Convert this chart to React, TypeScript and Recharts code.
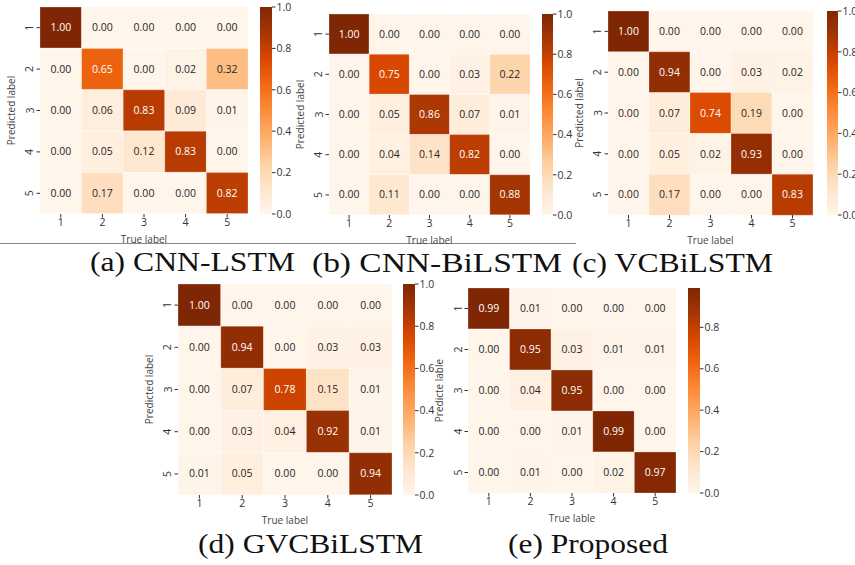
import React from 'react';
import { BarChart, Bar, XAxis, YAxis, Cell, LabelList } from 'recharts';

const CLASSES = ['1', '2', '3', '4', '5'];

const cnnLstm = [
  [1.0, 0.0, 0.0, 0.0, 0.0],
  [0.0, 0.65, 0.0, 0.02, 0.32],
  [0.0, 0.06, 0.83, 0.09, 0.01],
  [0.0, 0.05, 0.12, 0.83, 0.0],
  [0.0, 0.17, 0.0, 0.0, 0.82],
];
const cnnBiLstm = [
  [1.0, 0.0, 0.0, 0.0, 0.0],
  [0.0, 0.75, 0.0, 0.03, 0.22],
  [0.0, 0.05, 0.86, 0.07, 0.01],
  [0.0, 0.04, 0.14, 0.82, 0.0],
  [0.0, 0.11, 0.0, 0.0, 0.88],
];
const vcBiLstm = [
  [1.0, 0.0, 0.0, 0.0, 0.0],
  [0.0, 0.94, 0.0, 0.03, 0.02],
  [0.0, 0.07, 0.74, 0.19, 0.0],
  [0.0, 0.05, 0.02, 0.93, 0.0],
  [0.0, 0.17, 0.0, 0.0, 0.83],
];
const gvcBiLstm = [
  [1.0, 0.0, 0.0, 0.0, 0.0],
  [0.0, 0.94, 0.0, 0.03, 0.03],
  [0.0, 0.07, 0.78, 0.15, 0.01],
  [0.0, 0.03, 0.04, 0.92, 0.01],
  [0.01, 0.05, 0.0, 0.0, 0.94],
];
const proposed = [
  [0.99, 0.01, 0.0, 0.0, 0.0],
  [0.0, 0.95, 0.03, 0.01, 0.01],
  [0.0, 0.04, 0.95, 0.0, 0.0],
  [0.0, 0.0, 0.01, 0.99, 0.0],
  [0.0, 0.01, 0.0, 0.02, 0.97],
];

const cbTicksFull = [0, 0.2, 0.4, 0.6, 0.8, 1.0];
const cbTicksProposed = [0, 0.2, 0.4, 0.6, 0.8];

const captions = ['(a) CNN-LSTM', '(b) CNN-BiLSTM', '(c) VCBiLSTM', '(d) GVCBiLSTM', '(e) Proposed'];

// matplotlib "Oranges"
const ORANGES = ['#fff5eb', '#fee6ce', '#fdd0a2', '#fdae6b', '#fd8d3c', '#f16913', '#d94801', '#a63603', '#7f2704'];

const hexRgb = (h: string) => [1, 3, 5].map((i) => parseInt(h.slice(i, i + 2), 16));

const orangeRgb = (t: number) => {
  const c = Math.max(0, Math.min(1, t)) * (ORANGES.length - 1);
  const i = Math.min(Math.floor(c), ORANGES.length - 2);
  const f = c - i;
  const a = hexRgb(ORANGES[i]);
  const b = hexRgb(ORANGES[i + 1]);
  return a.map((v, k) => Math.round(v + (b[k] - v) * f));
};
const orange = (t: number) => `rgb(${orangeRgb(t).join(',')})`;

const textColor = (t: number) => {
  const [r, g, b] = orangeRgb(t).map((v) => {
    const s = v / 255;
    return s <= 0.03928 ? s / 12.92 : Math.pow((s + 0.055) / 1.055, 2.4);
  });
  const lum = 0.2126 * r + 0.7152 * g + 0.0722 * b;
  return lum > 0.408 ? '#262626' : '#ffffff';
};

const FONT = '"Open Sans", "DejaVu Sans", sans-serif';
const INK = '#333';

interface PanelProps {
  matrix: number[][];
  vmax: number;
  cbTicks: number[];
  gx: number;
  gy: number;
  gw: number;
  gh: number;
  cbx: number;
  cbw: number;
  yTitle: string;
  xTitle: string;
  id: string;
}

const L = 45;
const T = 2;
const R = 4;
const B = 34;
const CBP = 8;

const RotTick = (props: any) => {
  const { x, y, payload } = props;
  return (
    <text x={x} y={y} transform={`rotate(-90 ${x} ${y})`} textAnchor="middle" fontSize={10.5} fill={INK} fontFamily={FONT}>
      {payload.value}
    </text>
  );
};

const Panel: React.FC<PanelProps> = ({ matrix, vmax, cbTicks, gx, gy, gw, gh, cbx, cbw, yTitle, xTitle, id }) => {
  const rows = CLASSES.map((c, i) => {
    const r: any = { row: c };
    CLASSES.forEach((_, k) => {
      r[`c${k}`] = 1;
      r[`v${k}`] = matrix[i][k];
    });
    return r;
  });
  const xTicks = CLASSES.map((_, i) => i + 0.5);
  const cbData = [{ name: 'cb', v: vmax }];
  const n = ORANGES.length - 1;

  return (
    <>
      <div style={{ position: 'absolute', left: gx - L, top: gy - T }}>
        <BarChart
          layout="vertical"
          width={gw + L + R}
          height={gh + T + B}
          data={rows}
          margin={{ top: T, right: R, bottom: 0, left: 0 }}
          barCategoryGap={0}
          barGap={0}
        >
          <XAxis
            type="number"
            domain={[0, CLASSES.length]}
            ticks={xTicks}
            tickFormatter={(v: number) => CLASSES[Math.floor(v)]}
            axisLine={false}
            tickSize={3.5}
            tickMargin={1}
            height={B}
            tick={{ fontSize: 10.5, fill: INK, fontFamily: FONT }}
            tickLine={{ stroke: INK }}
            interval={0}
          />
          <YAxis
            type="category"
            dataKey="row"
            width={L}
            axisLine={false}
            tickSize={3.5}
            tickMargin={3}
            tick={<RotTick />}
            tickLine={{ stroke: INK }}
            interval={0}
          />
          {CLASSES.map((_, k) => (
            <Bar key={k} dataKey={`c${k}`} stackId="m" isAnimationActive={false}>
              {rows.map((r, i) => (
                <Cell key={i} fill={orange(r[`v${k}`] / vmax)} stroke="rgba(255,255,255,0.25)" strokeWidth={1} />
              ))}
              <LabelList
                dataKey={`v${k}`}
                content={(p: any) => {
                  const v = Number(p.value);
                  return (
                    <text
                      x={p.x + p.width / 2}
                      y={p.y + p.height / 2}
                      dy="0.35em"
                      textAnchor="middle"
                      fontSize={10.5}
                      fontFamily={FONT}
                      fill={textColor(v / vmax)}
                    >
                      {v.toFixed(2)}
                    </text>
                  );
                }}
              />
            </Bar>
          ))}
          <text
            x={L - 25}
            y={T + gh / 2}
            transform={`rotate(-90 ${L - 25} ${T + gh / 2})`}
            textAnchor="middle"
            fontSize={10}
            fill="#444"
            fontFamily={FONT}
          >
            {yTitle}
          </text>
          <text x={L + gw / 2} y={T + gh + 29} textAnchor="middle" fontSize={10} fill="#444" fontFamily={FONT}>
            {xTitle}
          </text>
        </BarChart>
      </div>
      <div style={{ position: 'absolute', left: cbx, top: gy - CBP }}>
        <BarChart
          width={cbw + 30}
          height={gh + 2 * CBP}
          data={cbData}
          margin={{ top: CBP, right: 0, bottom: CBP, left: 0 }}
          barCategoryGap={0}
        >
          <defs>
            <linearGradient id={`grad-${id}`} x1="0" y1="0" x2="0" y2="1">
              {ORANGES.map((_, i) => (
                <stop key={i} offset={i / n} stopColor={ORANGES[n - i]} />
              ))}
            </linearGradient>
          </defs>
          <XAxis dataKey="name" hide />
          <YAxis
            orientation="right"
            type="number"
            domain={[0, vmax]}
            ticks={cbTicks}
            tickFormatter={(v: number) => v.toFixed(1)}
            width={30}
            axisLine={false}
            tickSize={3.5}
            tickMargin={1}
            tick={{ fontSize: 10.5, fill: INK, fontFamily: FONT }}
            tickLine={{ stroke: INK }}
            interval={0}
          />
          <Bar dataKey="v" fill={`url(#grad-${id})`} isAnimationActive={false} />
        </BarChart>
      </div>
    </>
  );
};

const layout = [
  { gx: 40, gy: 7, gw: 208, gh: 207, cbx: 260, cbw: 12, cx: 90, cw: 205, cy: 271 },
  { gx: 329, gy: 14, gw: 201, gh: 201, cbx: 542, cbw: 11, cx: 312, cw: 250, cy: 272 },
  { gx: 608, gy: 11, gw: 205, gh: 204, cbx: 827, cbw: 11, cx: 572, cw: 201, cy: 272 },
  { gx: 178, gy: 284, gw: 214, gh: 211, cbx: 403, cbw: 12, cx: 198, cw: 225, cy: 553 },
  { gx: 468, gy: 288, gw: 208, gh: 205, cbx: 688, cbw: 12, cx: 508, cw: 160, cy: 553 },
];

const matrices = [cnnLstm, cnnBiLstm, vcBiLstm, gvcBiLstm, proposed];

export default function App() {
  return (
    <div style={{ position: 'relative', width: 855, height: 565, background: '#fff', overflow: 'hidden', fontFamily: FONT }}>
      <style>{'body{margin:0}'}</style>
      <svg width={855} height={565} style={{ position: 'absolute', left: 0, top: 0 }}>
        <line x1={0} x2={576} y1={243.5} y2={243.5} stroke="#8a8a8a" strokeWidth={1} />
        {layout.map((g, i) => (
          <text
            key={i}
            x={g.cx}
            y={g.cy}
            textLength={g.cw}
            lengthAdjust="spacingAndGlyphs"
            fontSize={28}
            fontFamily='"Liberation Serif", "Times New Roman", serif'
            fill="#111"
          >
            {captions[i]}
          </text>
        ))}
      </svg>
      {layout.map((g, i) => (
        <Panel
          key={i}
          id={`p${i}`}
          matrix={matrices[i]}
          vmax={i === 4 ? 0.99 : 1.0}
          cbTicks={i === 4 ? cbTicksProposed : cbTicksFull}
          gx={g.gx}
          gy={g.gy}
          gw={g.gw}
          gh={g.gh}
          cbx={g.cbx}
          cbw={g.cbw}
          yTitle={i === 4 ? 'Predicte lable' : 'Predicted label'}
          xTitle={i === 4 ? 'True lable' : 'True label'}
        />
      ))}
    </div>
  );
}
